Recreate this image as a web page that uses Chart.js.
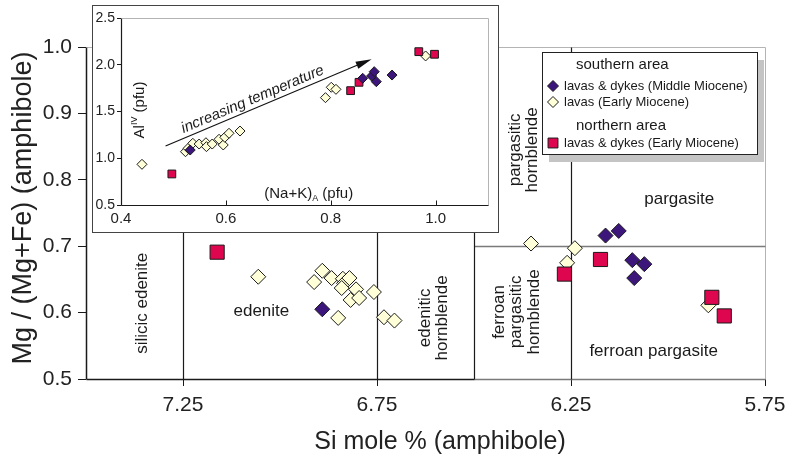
<!DOCTYPE html>
<html>
<head>
<meta charset="utf-8">
<script src="https://cdn.jsdelivr.net/npm/chart.js@4.4.1/dist/chart.umd.min.js"></script>
<style>
  html, body { margin: 0; padding: 0; background: #fff; }
  #wrap { position: relative; width: 785px; height: 460px; }
  #inset { position: absolute; left: 92px; top: 5px; width: 405px; height: 226px;
           border: 1px solid #444; background: #fff; }
  canvas { display: block; }
</style>
</head>
<body>
<div id="wrap">
  <canvas id="main" width="785" height="460"></canvas>
  <div id="inset"><canvas id="insetCanvas" width="405" height="226"></canvas></div>
</div>
<script>
// --- main diagram: Si vs Mg/(Mg+Fe) ---
const mainXTicks = [7.25, 6.75, 6.25, 5.75];
const mainYTicks = [0.5, 0.6, 0.7, 0.8, 0.9, 1.0];
const fieldSi = [7.25, 6.75, 6.5, 6.25];   // vertical field boundaries
const fieldMg = 0.7;                        // Mg# split, Si < 6.5 only

const southMidSi = [6.891, 6.161, 6.127, 6.092, 6.061, 6.087];
const southMidMg = [0.605, 0.716, 0.723, 0.679, 0.673, 0.652];

const southEarlySi = [7.056, 6.912, 6.891, 6.867, 6.838, 6.835, 6.821, 6.841, 6.804, 6.818,
                      6.796, 6.758, 6.850, 6.732, 6.705, 6.353, 6.240, 6.260, 5.896];
const southEarlyMg = [0.654, 0.646, 0.663, 0.652, 0.651, 0.644, 0.652, 0.637, 0.635, 0.619,
                      0.622, 0.631, 0.592, 0.593, 0.588, 0.704, 0.697, 0.675, 0.611];

const northSi = [7.162, 6.267, 6.174, 5.887, 5.855];
const northMg = [0.691, 0.658, 0.680, 0.623, 0.595];

// --- inset: (Na+K)A vs AlIV ---
const insetXTicks = [0.4, 0.6, 0.8, 1.0];
const insetYTicks = [0.5, 1.0, 1.5, 2.0, 2.5];

const insetSouthMidNaK = [0.532, 0.861, 0.878, 0.883, 0.887, 0.917];
const insetSouthMidAl  = [1.088, 1.855, 1.880, 1.926, 1.819, 1.890];

const insetSouthEarlyNaK = [0.440, 0.523, 0.528, 0.537, 0.549, 0.562, 0.563, 0.574, 0.587,
                            0.595, 0.598, 0.606, 0.627, 0.790, 0.801, 0.810, 0.981];
const insetSouthEarlyAl  = [0.935, 1.070, 1.106, 1.160, 1.152, 1.166, 1.124, 1.152, 1.203,
                            1.142, 1.224, 1.267, 1.291, 1.648, 1.759, 1.737, 2.094];

const insetNorthNaK = [0.497, 0.838, 0.854, 0.968, 0.998];
const insetNorthAl  = [0.832, 1.723, 1.812, 2.140, 2.112];

const tempArrowFrom = [0.485, 1.13];
const tempArrowTo   = [0.878, 2.06];

const legendGroups = ['southern area', 'northern area'];
const seriesLabels = ['lavas & dykes (Middle Miocene)', 'lavas (Early Miocene)', 'lavas & dykes (Early Miocene)'];

const FONT = "'Liberation Sans', Arial, sans-serif";
Chart.defaults.font.family = FONT;
Chart.defaults.color = '#222';

const PURPLE = '#3d167c';
const CREAM = '#ffffd8';
const RED = '#df0650';
const EDGE = '#1a1a1a';

const toPoints = (xs, ys) => xs.map((x, i) => ({ x, y: ys[i] }));

function crisp(v) { return Math.round(v) + 0.5; }

function seg(ctx, x1, y1, x2, y2, color, w) {
  ctx.beginPath();
  ctx.moveTo(x1, y1);
  ctx.lineTo(x2, y2);
  ctx.strokeStyle = color;
  ctx.lineWidth = w;
  ctx.stroke();
}

// text made of runs, for super/subscripts
function richText(ctx, runs, cx, cy, rotation) {
  ctx.save();
  ctx.translate(cx, cy);
  ctx.rotate(rotation || 0);
  ctx.textBaseline = 'alphabetic';
  ctx.textAlign = 'left';
  let total = 0;
  runs.forEach(r => { ctx.font = r.size + 'px ' + FONT; total += ctx.measureText(r.t).width; });
  let x = -total / 2;
  runs.forEach(r => {
    ctx.font = r.size + 'px ' + FONT;
    ctx.fillText(r.t, x, 5 + (r.dy || 0));
    x += ctx.measureText(r.t).width;
  });
  ctx.restore();
}

// ---------------- main chart ----------------
const fieldLabels = [
  { text: ['silicic edenite'], si: 7.356, mg: 0.614, vertical: true },
  { text: ['edenite'], si: 7.048, mg: 0.602 },
  { text: ['edenitic', 'hornblende'], si: 6.604, mg: 0.592, vertical: true },
  { text: ['pargasitic', 'hornblende'], si: 6.372, mg: 0.845, vertical: true },
  { text: ['pargasite'], si: 5.971, mg: 0.770 },
  { text: ['ferroan', 'pargasitic', 'hornblende'], si: 6.390, mg: 0.601, vertical: true },
  { text: ['ferroan pargasite'], si: 6.037, mg: 0.542 },
];

const fieldsPlugin = {
  id: 'amphiboleFields',
  beforeDatasetsDraw(chart) {
    const { ctx, scales: { x, y } } = chart;
    const px = v => crisp(x.getPixelForValue(v));
    const py = v => crisp(y.getPixelForValue(v));
    const yTop = py(mainYTicks[mainYTicks.length - 1]);
    const yBot = py(mainYTicks[0]);
    ctx.save();
    // light frame on top / right
    seg(ctx, px(x.max), yTop, px(x.min), yTop, '#b4b4b4', 1);
    seg(ctx, px(x.min), yTop, px(x.min), yBot, '#b4b4b4', 1);
    // hornblende half of the base + Mg# split in grey
    seg(ctx, px(6.5), yBot, px(x.min), yBot, '#7a7a7a', 1.5);
    seg(ctx, px(6.5), py(fieldMg), px(x.min), py(fieldMg), '#7a7a7a', 1.5);
    // field boundaries
    fieldSi.forEach(si => seg(ctx, px(si), yBot, px(si), yTop, '#1a1a1a', 1.2));
    // axes
    seg(ctx, px(x.max), yTop, px(x.max), yBot, '#1a1a1a', 1.5);
    seg(ctx, px(x.max), yBot, px(6.5), yBot, '#1a1a1a', 1.5);

    // field names
    ctx.fillStyle = '#1a1a1a';
    ctx.font = '17px ' + FONT;
    ctx.textAlign = 'center';
    ctx.textBaseline = 'middle';
    fieldLabels.forEach(f => {
      const cx = x.getPixelForValue(f.si);
      const cy = y.getPixelForValue(f.mg);
      const n = f.text.length;
      f.text.forEach((t, i) => {
        const off = (i - (n - 1) / 2) * 17.5;
        ctx.save();
        if (f.vertical) {
          ctx.translate(cx + off, cy);
          ctx.rotate(-Math.PI / 2);
          ctx.fillText(t, 0, 0);
        } else {
          ctx.fillText(t, cx, cy + off);
        }
        ctx.restore();
      });
    });

    // axis titles
    ctx.fillStyle = '#222';
    ctx.font = '25px ' + FONT;
    ctx.fillText('Si mole % (amphibole)', 440, 442);
    ctx.save();
    ctx.translate(24, 208);
    ctx.rotate(-Math.PI / 2);
    ctx.font = '27px ' + FONT;
    ctx.fillText('Mg / (Mg+Fe) (amphibole)', 0, 0);
    ctx.restore();
    ctx.restore();
  },
};

const legendPlugin = {
  id: 'groupLegend',
  afterDraw(chart) {
    const ctx = chart.ctx;
    const ds = chart.data.datasets;
    const L = 542, T = 52, W = 215, H = 102;
    ctx.save();
    ctx.fillStyle = '#c4c4c4';
    ctx.fillRect(L + 7, T + 8, W, H);
    ctx.fillStyle = '#fff';
    ctx.fillRect(L, T, W, H);
    ctx.strokeStyle = '#222';
    ctx.lineWidth = 1;
    ctx.strokeRect(L + 0.5, T + 0.5, W, H);

    ctx.fillStyle = '#1a1a1a';
    ctx.textAlign = 'left';
    ctx.textBaseline = 'middle';
    ctx.font = '15px ' + FONT;
    ctx.fillText(legendGroups[0], 576, 65);
    ctx.fillText(legendGroups[1], 576, 126);

    const rows = [{ d: ds[0], y: 86, r: 5.5 }, { d: ds[1], y: 102, r: 5.5 }, { d: ds[2], y: 143, r: 7 }];
    rows.forEach(row => {
      ctx.fillStyle = row.d.backgroundColor;
      ctx.strokeStyle = row.d.borderColor;
      ctx.lineWidth = 1;
      Chart.helpers.drawPoint(ctx, { pointStyle: row.d.pointStyle, radius: row.r, rotation: 0, borderWidth: 1 }, 553, row.y);
      ctx.fillStyle = '#1a1a1a';
      ctx.font = '13px ' + FONT;
      ctx.fillText(row.d.label, 564, row.y);
    });
    ctx.restore();
  },
};

new Chart(document.getElementById('main'), {
  type: 'scatter',
  data: {
    datasets: [
      { label: seriesLabels[0], data: toPoints(southMidSi, southMidMg), pointStyle: 'rectRot',
        pointRadius: 7.5, backgroundColor: PURPLE, borderColor: EDGE, borderWidth: 1, order: 1 },
      { label: seriesLabels[1], data: toPoints(southEarlySi, southEarlyMg), pointStyle: 'rectRot',
        pointRadius: 7.5, backgroundColor: CREAM, borderColor: EDGE, borderWidth: 1, order: 3 },
      { label: seriesLabels[2], data: toPoints(northSi, northMg), pointStyle: 'rect',
        pointRadius: 10, backgroundColor: RED, borderColor: EDGE, borderWidth: 1, order: 2 },
    ],
  },
  options: {
    responsive: false,
    animation: false,
    events: [],
    layout: { padding: { top: 47, right: 20, left: 0, bottom: 0 } },
    plugins: { legend: { display: false }, tooltip: { enabled: false } },
    scales: {
      x: {
        type: 'linear',
        reverse: true,
        min: 5.75,
        max: 7.5,
        border: { display: false },
        grid: { drawOnChartArea: false, drawTicks: true, tickLength: 7, color: '#1a1a1a' },
        ticks: { font: { size: 21 }, color: '#222', padding: 7, callback: v => v.toFixed(2) },
        afterBuildTicks(scale) { scale.ticks = mainXTicks.map(value => ({ value })); },
        afterFit(scale) { scale.height = 81; scale.paddingLeft = 0; scale.paddingRight = 0; },
      },
      y: {
        type: 'linear',
        min: 0.5,
        max: 1.0,
        border: { display: false },
        grid: { drawOnChartArea: false, drawTicks: true, tickLength: 8, color: '#1a1a1a' },
        ticks: { font: { size: 21 }, color: '#222', padding: 6, callback: v => v.toFixed(1) },
        afterBuildTicks(scale) { scale.ticks = mainYTicks.map(value => ({ value })); },
        afterFit(scale) { scale.width = 86; scale.paddingTop = 0; scale.paddingBottom = 0; },
      },
    },
  },
  plugins: [fieldsPlugin, legendPlugin],
});

// ---------------- inset chart ----------------
const insetPlugin = {
  id: 'insetDecor',
  beforeDatasetsDraw(chart) {
    const { ctx, scales: { x, y } } = chart;
    const px = v => crisp(x.getPixelForValue(v));
    const py = v => crisp(y.getPixelForValue(v));
    const l = px(x.min), r = px(x.max), t = py(y.max), b = py(y.min);
    ctx.save();
    seg(ctx, l, t, r, t, '#b4b4b4', 1);
    seg(ctx, r, t, r, b, '#b4b4b4', 1);
    seg(ctx, l, t, l, b, '#1a1a1a', 1.2);
    seg(ctx, l, b, r, b, '#1a1a1a', 1.2);
    // inward ticks on the x axis
    insetXTicks.forEach(v => seg(ctx, px(v), b, px(v), b - 5, '#1a1a1a', 1));

    // temperature arrow
    const x1 = x.getPixelForValue(tempArrowFrom[0]), y1 = y.getPixelForValue(tempArrowFrom[1]);
    const x2 = x.getPixelForValue(tempArrowTo[0]), y2 = y.getPixelForValue(tempArrowTo[1]);
    const ang = Math.atan2(y2 - y1, x2 - x1);
    seg(ctx, x1, y1, x2 - 10 * Math.cos(ang), y2 - 10 * Math.sin(ang), '#111', 1.1);
    ctx.save();
    ctx.translate(x2, y2);
    ctx.rotate(ang);
    ctx.beginPath();
    ctx.moveTo(0, 0);
    ctx.lineTo(-16, -3.8);
    ctx.lineTo(-16, 3.8);
    ctx.closePath();
    ctx.fillStyle = '#111';
    ctx.fill();
    ctx.restore();

    ctx.save();
    const f = 0.44;
    ctx.translate(x1 + (x2 - x1) * f, y1 + (y2 - y1) * f);
    ctx.rotate(ang);
    ctx.font = 'italic 15px ' + FONT;
    ctx.fillStyle = '#1a1a1a';
    ctx.textAlign = 'center';
    ctx.textBaseline = 'alphabetic';
    ctx.fillText('increasing temperature', 0, -5);
    ctx.restore();

    // axis names inside the plot
    ctx.fillStyle = '#1a1a1a';
    richText(ctx, [{ t: 'Al', size: 15 }, { t: 'IV', size: 9, dy: -7 }, { t: ' (pfu)', size: 15 }],
      x.getPixelForValue(0.435), y.getPixelForValue(1.516), -Math.PI / 2);
    richText(ctx, [{ t: '(Na+K)', size: 15 }, { t: 'A', size: 9, dy: 3 }, { t: ' (pfu)', size: 15 }],
      x.getPixelForValue(0.758), y.getPixelForValue(0.628), 0);
    ctx.restore();
  },
};

new Chart(document.getElementById('insetCanvas'), {
  type: 'scatter',
  data: {
    datasets: [
      { label: seriesLabels[0], data: toPoints(insetSouthMidNaK, insetSouthMidAl), pointStyle: 'rectRot',
        pointRadius: 5, backgroundColor: PURPLE, borderColor: EDGE, borderWidth: 1, order: 1 },
      { label: seriesLabels[1], data: toPoints(insetSouthEarlyNaK, insetSouthEarlyAl), pointStyle: 'rectRot',
        pointRadius: 5, backgroundColor: CREAM, borderColor: EDGE, borderWidth: 1, order: 3 },
      { label: seriesLabels[2], data: toPoints(insetNorthNaK, insetNorthAl), pointStyle: 'rect',
        pointRadius: 5.5, backgroundColor: RED, borderColor: EDGE, borderWidth: 1, order: 2 },
    ],
  },
  options: {
    responsive: false,
    animation: false,
    events: [],
    layout: { padding: { top: 12, right: 10, left: 0, bottom: 0 } },
    plugins: { legend: { display: false }, tooltip: { enabled: false } },
    scales: {
      x: {
        type: 'linear',
        min: 0.4,
        max: 1.1,
        border: { display: false },
        grid: { drawOnChartArea: false, drawTicks: false },
        ticks: { font: { size: 15 }, color: '#222', padding: 5, callback: v => v.toFixed(1) },
        afterBuildTicks(scale) { scale.ticks = insetXTicks.map(value => ({ value })); },
        afterFit(scale) { scale.height = 27; scale.paddingLeft = 0; scale.paddingRight = 0; },
      },
      y: {
        type: 'linear',
        min: 0.5,
        max: 2.5,
        border: { display: false },
        grid: { drawOnChartArea: false, drawTicks: true, tickLength: 4, color: '#1a1a1a' },
        ticks: { font: { size: 14 }, color: '#222', padding: 2, callback: v => v.toFixed(1) },
        afterBuildTicks(scale) { scale.ticks = insetYTicks.map(value => ({ value })); },
        afterFit(scale) { scale.width = 28; scale.paddingTop = 0; scale.paddingBottom = 0; },
      },
    },
  },
  plugins: [insetPlugin],
});
</script>
</body>
</html>
